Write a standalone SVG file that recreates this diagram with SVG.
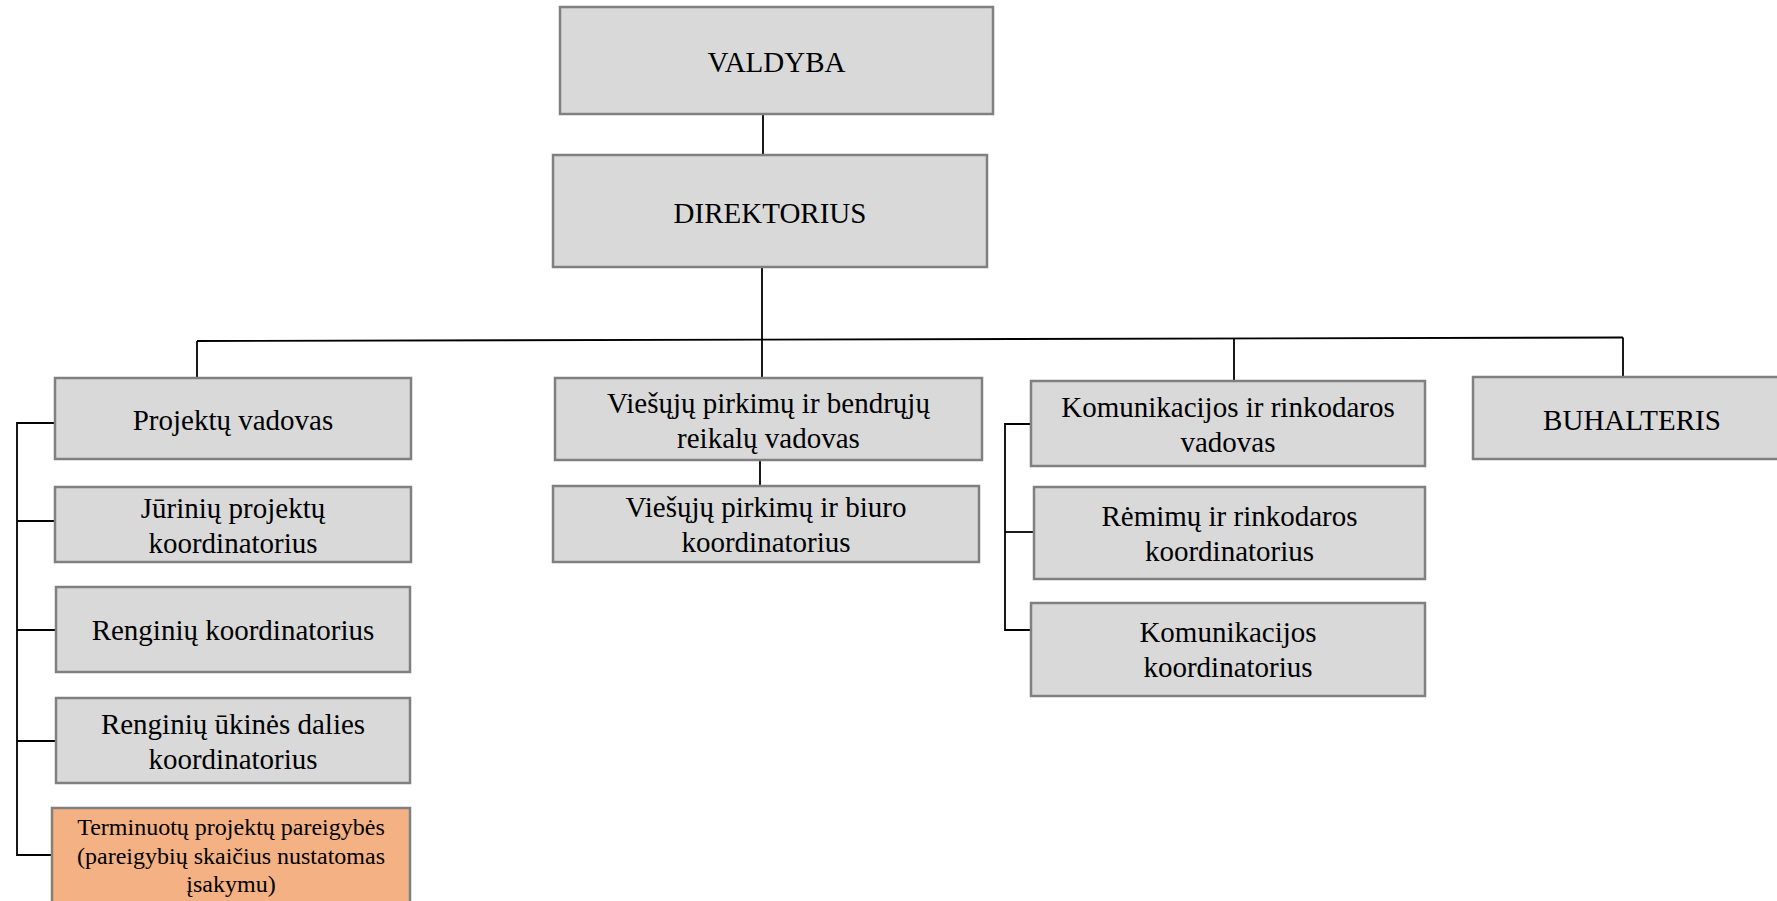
<svg xmlns="http://www.w3.org/2000/svg" width="1777" height="901" viewBox="0 0 1777 901">
<style>
.box{fill:#D9D9D9;stroke:#808080;stroke-width:2.5}
.org{fill:#F4B183;stroke:#808080;stroke-width:2.5}
.t{font-family:"Liberation Serif","Times New Roman",serif;font-size:29px;fill:#000;text-anchor:middle}
.s{font-family:"Liberation Serif","Times New Roman",serif;font-size:24px;fill:#000;text-anchor:middle}
.c{stroke:#000;stroke-width:1.8;fill:none}
</style>
<rect width="1777" height="901" fill="#fff"/>
<g id="connectors">
<line class="c" x1="763" y1="114" x2="763" y2="155"/>
<line class="c" x1="762" y1="267" x2="762" y2="378"/>
<line class="c" x1="197" y1="341" x2="1623" y2="337.5"/>
<line class="c" x1="197" y1="341" x2="197" y2="378"/>
<line class="c" x1="1234" y1="339" x2="1234" y2="381"/>
<line class="c" x1="1623" y1="337.5" x2="1623" y2="377"/>
<line class="c" x1="760" y1="460" x2="760" y2="486"/>
<polyline class="c" points="55,423 17,423 17,855 52,855"/>
<line class="c" x1="17" y1="521" x2="55" y2="521"/>
<line class="c" x1="17" y1="630" x2="55" y2="630"/>
<line class="c" x1="17" y1="741" x2="55" y2="741"/>
<polyline class="c" points="1031,424 1005,424 1005,630 1031,630"/>
<line class="c" x1="1005" y1="532" x2="1034" y2="532"/>
</g>
<g id="valdyba"><rect class="box" x="560" y="7" width="433" height="107"/><text class="t" x="776.5" y="72">VALDYBA</text></g>
<g id="direktorius"><rect class="box" x="553" y="155" width="434" height="112"/><text class="t" x="770" y="223">DIREKTORIUS</text></g>
<g id="projektu-vadovas"><rect class="box" x="55" y="378" width="356" height="81"/><text class="t" x="233" y="430">Projektų vadovas</text></g>
<g id="jurinių"><rect class="box" x="55" y="487" width="356" height="75"/><text class="t" x="233" y="518">Jūrinių projektų</text><text class="t" x="233" y="553">koordinatorius</text></g>
<g id="renginiu"><rect class="box" x="56" y="587" width="354" height="85"/><text class="t" x="233" y="640">Renginių koordinatorius</text></g>
<g id="renginiu-ukines"><rect class="box" x="56" y="698" width="354" height="85"/><text class="t" x="233" y="734">Renginių ūkinės dalies</text><text class="t" x="233" y="769">koordinatorius</text></g>
<g id="terminuotu"><rect class="org" x="52" y="808" width="358" height="110"/><text class="s" x="231" y="835">Terminuotų projektų pareigybės</text><text class="s" x="231" y="864">(pareigybių skaičius nustatomas</text><text class="s" x="231" y="892">įsakymu)</text></g>
<g id="viesuju-vadovas"><rect class="box" x="555" y="378" width="427" height="82"/><text class="t" x="768.5" y="413">Viešųjų pirkimų ir bendrųjų</text><text class="t" x="768.5" y="448">reikalų vadovas</text></g>
<g id="viesuju-biuro"><rect class="box" x="553" y="486" width="426" height="76"/><text class="t" x="766" y="517">Viešųjų pirkimų ir biuro</text><text class="t" x="766" y="552">koordinatorius</text></g>
<g id="komunikacijos-vadovas"><rect class="box" x="1031" y="381" width="394" height="85"/><text class="t" x="1228" y="417">Komunikacijos ir rinkodaros</text><text class="t" x="1228" y="452">vadovas</text></g>
<g id="remimu"><rect class="box" x="1034" y="487" width="391" height="92"/><text class="t" x="1229.5" y="526">Rėmimų ir rinkodaros</text><text class="t" x="1229.5" y="561">koordinatorius</text></g>
<g id="komunikacijos-koord"><rect class="box" x="1031" y="603" width="394" height="93"/><text class="t" x="1228" y="642">Komunikacijos</text><text class="t" x="1228" y="677">koordinatorius</text></g>
<g id="buhalteris"><rect class="box" x="1473" y="377" width="310" height="82"/><text class="t" x="1632" y="430">BUHALTERIS</text></g>
</svg>
